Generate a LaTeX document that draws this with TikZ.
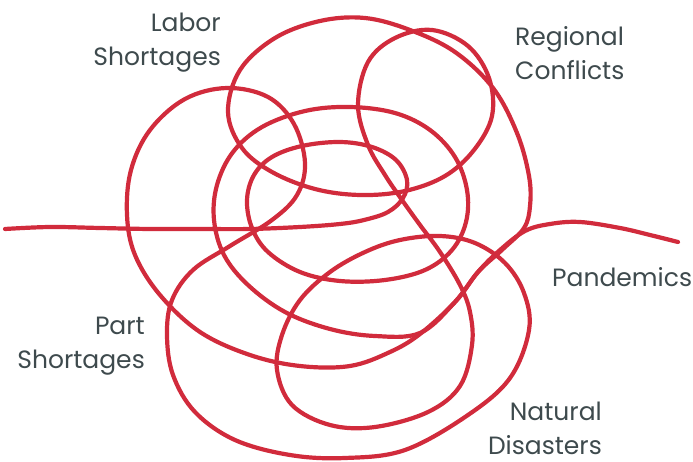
\documentclass[tikz,border=0pt]{standalone}
\usepackage{fontspec}
\setmainfont{Poppins}
\definecolor{scribble}{RGB}{209,43,60}
\definecolor{labeltext}{RGB}{62,74,77}
\begin{document}
\begin{tikzpicture}[x=1pt,y=-1pt,
  scrib/.style={draw=scribble,line width=4.2pt,line cap=round,line join=round},
  lbl/.style={inner sep=0pt,text=labeltext,font=\fontsize{25}{34}\selectfont}]
\useasboundingbox (0,0) rectangle (693,462);
% open strand: left end -> inner loops -> right end
\draw[scrib] plot[smooth,tension=0.6] coordinates {
 (5,229) (50,227) (100,228) (150,229) (200,229) (250,229) (300,227) (340,224)
 (364,220) (388,212) (403,198) (407,180) (396,160) (372,147) (340,142) (302,146)
 (272,157) (254,175) (247,200) (252,228) (268,252) (300,272) (340,281) (385,280)
 (425,270) (452,250) (466,222) (467,190) (455,157) (430,130) (395,113) (350,107)
 (305,111) (262,127) (233,152) (217,185) (214,220) (224,255) (248,285) (285,312)
 (330,329) (375,336) (420,333) (455,302) (478,272) (500,250) (525,231) (550,224)
 (580,222) (620,228) (650,235) (678,242)};
% closed strand
\draw[scrib] plot[smooth cycle,tension=0.6] coordinates {
 (420,334) (390,352) (350,366) (300,366) (250,355) (200,332) (160,295) (135,255)
 (127,215) (131,170) (150,130) (185,99) (227,88) (268,97) (294,124) (305,163)
 (297,195) (272,220) (230,246) (193,270) (172,300) (167,335) (173,375) (195,412)
 (235,440) (290,455) (345,458) (405,450) (468,415) (510,378) (529,330) (524,293)
 (505,263) (475,243) (440,236) (400,240) (365,252) (330,272) (300,300) (282,335)
 (277,370) (292,405) (330,425) (375,427) (428,412) (460,386) (472,345) (470,312)
 (460,285) (440,252) (420,225) (402,200) (385,175) (368,145) (358,105) (368,62)
 (395,38) (432,30) (468,46) (489,78) (492,116) (474,150) (445,176) (405,191)
 (360,195) (315,189) (272,172) (242,148) (228,112) (240,70) (275,38) (320,21)
 (365,18) (410,30) (455,52) (493,88) (517,133) (529,176) (530,206) (524,228)
 (503,249) (478,272) (455,302)};
\node[lbl,anchor=base east] (labor) at (221,32)
  {\begin{tabular}[t]{@{}r@{}}Labor\\Shortages\end{tabular}};
\node[lbl,anchor=base west] (regional) at (515,46)
  {\begin{tabular}[t]{@{}l@{}}Regional\\Conflicts\end{tabular}};
\node[lbl,anchor=base west] (pandemics) at (552,287) {Pandemics};
\node[lbl,anchor=base east] (part) at (145,334)
  {\begin{tabular}[t]{@{}r@{}}Part\\Shortages\end{tabular}};
\node[lbl,anchor=south east,align=right] (natural) at (602,455)
  {Natural\\Disasters};
\end{tikzpicture}
\end{document}
